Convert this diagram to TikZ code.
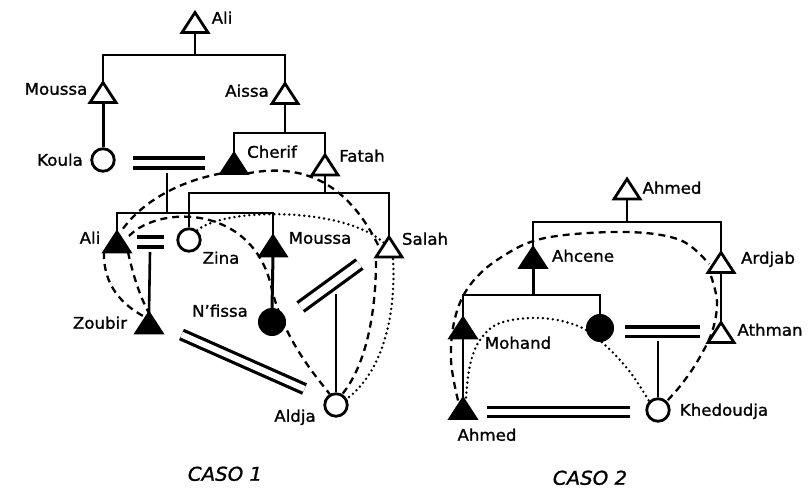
\documentclass[tikz,border=0pt]{standalone}
\usepackage{fontspec}
\setmainfont{DejaVu Sans}[FakeStretch=1.04, FakeBold=1.2]
\usetikzlibrary{calc}
\pgfdeclarelayer{bg}
\pgfsetlayers{bg,main}
\newcommand\triO[1]{\draw[tri line, fill=white] (#1.south west) -- (#1.north) -- (#1.south east) -- cycle;}
\newcommand\triF[1]{\draw[tri line, fill=black] (#1.south west) -- (#1.north) -- (#1.south east) -- cycle;}
\begin{document}
\begin{tikzpicture}[x=1pt,y=-1pt,
  tri line/.style={line width=2.8pt, line join=miter, miter limit=4},
  tribox/.style={inner sep=0pt, outer sep=0pt, minimum width=26pt, minimum height=20pt},
  ocirc/.style={circle, draw, fill=white, line width=2.8pt, inner sep=0pt, minimum size=22.5pt},
  fcirc/.style={circle, draw, fill=black, line width=1pt, inner sep=0pt, minimum size=27pt},
  lbl/.style={font=\fontsize{16}{18}\selectfont, inner sep=0pt, anchor=mid},
  caso/.style={font=\fontsize{19}{21}\selectfont\itshape, inner sep=0pt, anchor=mid},
  kin/.style={line width=2.6pt},
  marr/.style={line width=3.2pt, double=white, double distance=6.8pt},
  dsh/.style={line width=2.3pt, dash pattern=on 7pt off 5pt},
  dotln/.style={line width=2.7pt, line cap=round, dash pattern=on 0pt off 5pt},
]
\useasboundingbox (0,0) rectangle (811,500);

% ---------------- CASO 1 ----------------
\node[tribox] (aliT) at (195,22.5) {};
\node[tribox] (moussaT) at (103,92.5) {};
\node[tribox] (aissa) at (285,93.5) {};
\node[ocirc] (koula) at (103,160) {};
\node[tribox] (cherif) at (234,163.5) {};
\node[tribox] (fatah) at (325,165) {};
\node[tribox] (aliC) at (117,242) {};
\node[ocirc] (zina) at (189,240) {};
\node[tribox] (moussaC) at (273,246) {};
\node[tribox] (salah) at (389,247) {};
\node[tribox] (zoubir) at (149,323) {};
\node[fcirc] (nfissa) at (272,322) {};
\node[ocirc] (aldja) at (336,405) {};

\coordinate (j0) at (195,55);
\coordinate (j1) at (285,133);
\coordinate (j2) at (325,193);
\coordinate (m1a) at (133,163);
\coordinate (m1b) at (205,163);
\coordinate (s1top) at (167,173);
\coordinate (s1) at (167,213);
\coordinate (m2a) at (137,242);
\coordinate (m2b) at (164,242);
\coordinate (s2top) at (150,252);
\coordinate (m3a) at (300.5,307);
\coordinate (m3b) at (359.5,264);
\coordinate (s3top) at (336,294);
\coordinate (m4a) at (181.5,334.5);
\coordinate (m4b) at (304.5,389);

% ---------------- CASO 2 ----------------
\node[tribox] (ahmedT) at (627,189) {};
\node[tribox] (ahcene) at (533,257.5) {};
\node[tribox] (ardjab) at (721,262.5) {};
\node[tribox] (athman) at (721,332.5) {};
\node[tribox] (mohand) at (463,328) {};
\node[fcirc] (fc) at (600,328) {};
\node[ocirc] (khed) at (658,410) {};
\node[tribox] (ahmedB) at (463,408.5) {};

\coordinate (k0) at (627,222);
\coordinate (k1) at (533,295);
\coordinate (n1a) at (625,331.5);
\coordinate (n1b) at (700,331.5);
\coordinate (t1top) at (658,341);
\coordinate (n2a) at (487,412);
\coordinate (n2b) at (630,412);

\begin{pgfonlayer}{bg}
% kinship lines, caso 1
\draw[kin] (aliT.south) -- (j0);
\draw[kin] (moussaT.north) -- (moussaT.north |- j0) -- (aissa.north |- j0) -- (aissa.north);
\draw[kin, line width=3pt] (moussaT.south) -- (koula.north);
\draw[kin] (aissa.south) -- (j1);
\draw[kin] (cherif.north) -- (cherif.north |- j1) -- (fatah.north |- j1) -- (fatah.north);
\draw[kin] (fatah.south) -- (j2);
\draw[kin] (zina.north) -- (zina.north |- j2) -- (salah.north |- j2) -- (salah.north);
\draw[marr] (m1a) -- (m1b);
\draw[kin, line width=2pt] (s1top) -- (s1);
\draw[kin] (aliC.north) -- (aliC.north |- s1) -- (moussaC.north |- s1) -- (moussaC.north);
\draw[kin, line width=3pt] (moussaC.south) -- (nfissa.north);
\draw[marr] (m2a) -- (m2b);
\draw[kin] (s2top) -- (zoubir.north);
\draw[marr, double distance=7.5pt] (m3a) -- (m3b);
\draw[kin, line width=2pt] (s3top) -- (aldja.north);
\draw[marr, double distance=6pt] (m4a) -- (m4b);

% dashed / dotted, caso 1
\draw[dsh] (cherif.south west) .. controls (185,180) and (145,198) .. ($(aliC.north)+(5,-2)$);
\draw[dsh] (cherif.south east) .. controls (295,164) and (345,175) .. (380,249);
\draw[dsh] (376,261) .. controls (376,300) and (370,360) .. (aldja.60);
\draw[dotln] ($(salah.south)+(4,2)$) .. controls (396,310) and (385,370) .. (aldja.30);
\draw[dotln] (zina.50) .. controls (225,207) and (345,207) .. (384,243);
\draw[dsh] (129,236) .. controls (160,204) and (255,205) .. (272,290)
           .. controls (285,341) and (315,375) .. (aldja.120);
\draw[dsh] (aliC.south west) .. controls (103,285) and (122,305) .. (145,317);
\draw[dsh] ($(aliC.south east)+(-2,0)$) .. controls (133,275) and (140,297) .. (zoubir.north);

% kinship lines, caso 2
\draw[kin] (ahmedT.south) -- (k0);
\draw[kin] (ahcene.north) -- (ahcene.north |- k0) -- (ardjab.north |- k0) -- (ardjab.north);
\draw[kin] (ardjab.south) -- (athman.north);
\draw[kin, line width=3pt] (ahcene.south) -- (k1);
\draw[kin] (mohand.north) -- (mohand.north |- k1) -- (fc.north |- k1) -- (fc.north);
\draw[kin] (mohand.south) -- (ahmedB.north);
\draw[marr, double distance=6pt] (n1a) -- (n1b);
\draw[kin] (t1top) -- (khed.north);
\draw[marr, double distance=6.5pt] (n2a) -- (n2b);

% dashed / dotted, caso 2
\draw[dsh] plot[smooth, tension=0.6] coordinates {($(ahmedB.north)+(-5,2)$) (451,360) (455,318) (470,285) (500,258) (545,238) (625,232) (680,240) (709,264)};
\draw[dsh] plot[smooth, tension=0.6] coordinates {(711,276) (717,302) (712,332) (697,362) (681,385) (khed.45)};
\draw[dotln] plot[smooth, tension=0.6] coordinates {($(ahmedB.north)+(3,-1)$) (470,365) (480,340) (500,323) (540,318) (578,326) (605,345) (630,372) (khed.135)};
\end{pgfonlayer}

% triangles
\triO{aliT}
\triO{moussaT}
\triO{aissa}
\triF{cherif}
\triO{fatah}
\triF{aliC}
\triF{moussaC}
\triO{salah}
\triF{zoubir}
\triO{ahmedT}
\triF{ahcene}
\triO{ardjab}
\triO{athman}
\triF{mohand}
\triF{ahmedB}

% labels
\node[lbl] (lAliT) at (222,21) {Ali};
\node[lbl] (lMoussaT) at (56,92) {Moussa};
\node[lbl] (lAissa) at (247,94) {Aissa};
\node[lbl] (lKoula) at (60,163) {Koula};
\node[lbl] (lCherif) at (272,155) {Cherif};
\node[lbl] (lFatah) at (362,159) {Fatah};
\node[lbl] (lAliC) at (90,241) {Ali};
\node[lbl] (lZina) at (221,261) {Zina};
\node[lbl] (lMoussaC) at (320,241) {Moussa};
\node[lbl] (lSalah) at (425,242) {Salah};
\node[lbl] (lZoubir) at (100,326) {Zoubir};
\node[lbl] (lNfissa) at (220,314) {N'fissa};
\node[lbl] (lAldja) at (295,419) {Aldja};
\node[caso] (c1) at (225,478) {CASO 1};

\node[lbl] (lAhmedT) at (672,191) {Ahmed};
\node[lbl] (lAhcene) at (583,259) {Ahcene};
\node[lbl] (lArdjab) at (768,261) {Ardjab};
\node[lbl] (lAthman) at (770,333) {Athman};
\node[lbl] (lMohand) at (518,346) {Mohand};
\node[lbl] (lKhed) at (724,413) {Khedoudja};
\node[lbl] (lAhmedB) at (487,438) {Ahmed};
\node[caso] (c2) at (590,482) {CASO 2};
\end{tikzpicture}
\end{document}
